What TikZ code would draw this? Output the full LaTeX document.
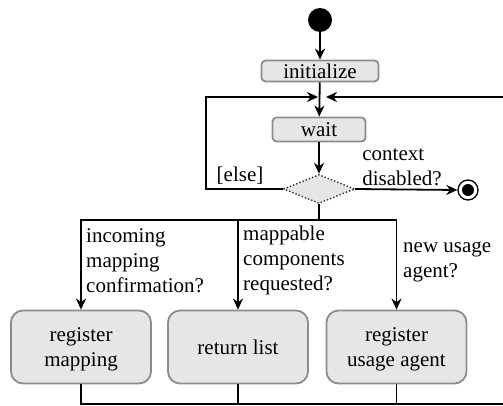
\documentclass[tikz,border=0pt]{standalone}
\usepackage{fontspec}
\setmainfont{Liberation Serif}
\newfontfamily\diaserif{Liberation Serif}
\usetikzlibrary{arrows.meta,shapes.geometric}
\definecolor{boxfill}{HTML}{E6E6E6}
\definecolor{boxedge}{HTML}{8C8C8C}
\newcommand{\diafont}{\diaserif\fontsize{21}{25}\selectfont}
\begin{document}
\begin{tikzpicture}[x=1pt,y=-1pt,
  flow/.style={line width=1.8pt,-{Stealth[length=11pt,width=10pt,inset=3.5pt]}},
  wire/.style={line width=1.8pt},
  smallact/.style={draw=boxedge,fill=boxfill,line width=1.8pt,rounded corners=4pt,
    inner sep=0pt,font=\diafont},
  bigact/.style={draw=boxedge,fill=boxfill,line width=1.8pt,rounded corners=12pt,
    minimum width=140pt,minimum height=73pt,inner sep=0pt,align=center,font=\diafont},
  guard/.style={inner sep=0pt,align=left,font=\diafont},
]
\useasboundingbox (0,0) rectangle (503,406);

% control nodes
\node[circle,fill=black,minimum size=24pt,inner sep=0pt] (start) at (320,20) {};
\node[smallact,minimum width=117pt,minimum height=21pt] (init) at (320,71) {initialize};
\node[smallact,minimum width=93pt,minimum height=24pt] (wait) at (319,129.5) {wait};
\node[diamond,aspect=2.5,minimum width=71pt,minimum height=29pt,inner sep=0pt,
  draw=black!80,dotted,line width=1.4pt,fill=boxfill] (dec) at (319,189) {};
\node[circle,draw,fill=white,line width=1.3pt,minimum size=20pt,inner sep=0pt] (final) at (468,190) {};
\fill (final.center) circle (6pt);

% actions
\node[bigact,text depth=0pt] (regmap) at (81,347) {register\\mapping};
\node[bigact] (retlist) at (238,347) {return list};
\node[bigact,text depth=0pt] (regagent) at (396.5,347) {register\\usage agent};

% junction points
\coordinate (loopL) at (206,97);
\coordinate (mergeW) at (318,97);
\coordinate (mergeE) at (326,97);
\coordinate (backR) at (503,97);
\coordinate (split) at (319,220);
\coordinate (exitR) at (503,404);

% main flow
\draw[flow] (start) -- (init);
\draw[flow] (init) -- (wait);
\draw[flow] (wait) -- (dec);
\draw[flow] (dec.east) -- (final.west);
\draw[flow] (dec.west) -| (loopL) -- (mergeW);
\draw[flow] (backR) -- (mergeE);

% branches
\draw[wire] (dec.south) -- (split);
\draw[flow] (split) -| (regmap.north);
\draw[flow] (split) -| (retlist.north);
\draw[flow] (split) -| (regagent.north);

% outgoing lines
\draw[wire] (regmap.south) |- (exitR);
\draw[wire] (retlist.south) -- (retlist.south |- exitR);
\draw[wire] (regagent.south) -- (regagent.south |- exitR);

% guards
\node[guard,anchor=south] (ctx) at (402,186) {context\\disabled?};
\node[guard,anchor=south] (els) at (240,185) {[else]};
\node[guard,anchor=north west] (g1) at (86,228) {incoming\\mapping\\confirmation?};
\node[guard,anchor=north west] (g2) at (243,226) {mappable\\components\\requested?};
\node[guard,anchor=north west] (g3) at (403,242) {new usage\\agent?};
\end{tikzpicture}
\end{document}
